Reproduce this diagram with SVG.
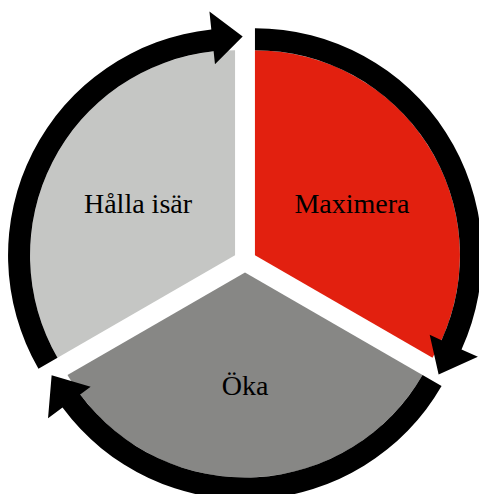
<svg xmlns="http://www.w3.org/2000/svg" width="479" height="494" viewBox="0 0 479 494">
  <style>
    .lbl { font-family: "Liberation Serif", "Times New Roman", serif; font-size: 28px; fill: #000; text-anchor: middle; }
    .arrow { fill: #000; stroke: none; }
  </style>
  <rect width="479" height="494" fill="#fff"/>
  <g id="maximera">
    <path d="M254.96,255.25 L254.96,50.25 A205,205 0 0 1 432.49,357.75 Z" fill="#E2200F"/>
    <text class="lbl" x="352" y="213">Maximera</text>
  </g>
  <g id="oka">
    <path d="M245,272.5 L422.53,375 A205,205 0 0 1 67.47,375 Z" fill="#878785"/>
    <text class="lbl" x="245" y="395">Öka</text>
  </g>
  <g id="halla-isar">
    <path d="M235.04,255.25 L57.51,357.75 A205,205 0 0 1 235.04,50.25 Z" fill="#C5C6C4"/>
    <text class="lbl" x="138" y="213">Hålla isär</text>
  </g>
  <g id="connectors">
    <path class="arrow" d="M254.96,28.25 A227,227 0 0 1 461.53,349.39 L477.91,356.85 L438.63,374.52 L429.68,334.87 L441.51,340.26 A205,205 0 0 0 254.96,50.25 Z"/>
    <path class="arrow" d="M441.58,386 A227,227 0 0 1 62.51,407.52 L48.04,418.23 L51.64,375.32 L90.65,386.70 L80.20,394.43 A205,205 0 0 0 422.53,375 Z"/>
    <path class="arrow" d="M38.46,368.75 A227,227 0 0 1 211.31,29.49 L209.43,11.59 L242.68,36.38 L214.97,64.30 L213.61,51.37 A205,205 0 0 0 57.51,357.75 Z"/>
  </g>
</svg>
